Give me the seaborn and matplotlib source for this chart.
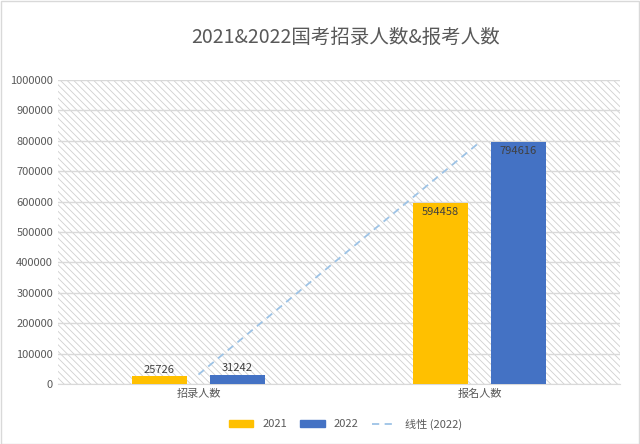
import matplotlib
matplotlib.use("Agg")
import matplotlib.pyplot as plt
import pandas as pd
import seaborn as sns
from matplotlib.lines import Line2D
from matplotlib.patches import Patch

plt.rcParams["font.family"] = ["sans-serif"]
plt.rcParams["font.sans-serif"] = ["Noto Sans CJK SC", "Noto Sans CJK JP", "Noto Sans CJK TC",
                                   "Noto Sans CJK KR", "DejaVu Sans"]
plt.rcParams["hatch.color"] = "#d0d0d0"
plt.rcParams["hatch.linewidth"] = 0.6

categories = ["招录人数", "报名人数"]
years = ["2021", "2022"]
values_2021 = [25726, 594458]
values_2022 = [31242, 794616]
colors = ["#FFC000", "#4472C4"]

df = pd.DataFrame({
    "category": categories * 2,
    "year": [years[0]] * 2 + [years[1]] * 2,
    "value": values_2021 + values_2022,
})

fig = plt.figure(figsize=(6.4, 4.44), dpi=100)
ax = fig.add_axes([0.0906, 0.135, 0.878, 0.685])
fig.patches.append(plt.Rectangle((0.001, 0.001), 0.997, 0.997, transform=fig.transFigure,
                                 fill=False, edgecolor="#d9d9d9", linewidth=1))

ax.add_patch(plt.Rectangle((0, 0), 1, 1, transform=ax.transAxes, facecolor="white",
                           hatch="\\\\\\\\\\", edgecolor="#d0d0d0", linewidth=0, zorder=0))
ax.set_facecolor("none")

sns.barplot(data=df, x="category", y="value", hue="year", palette=colors,
            width=0.555, gap=0.295, ax=ax, legend=False, zorder=3, saturation=1)

for cont in ax.containers:
    for bar in cont:
        h = bar.get_height()
        xc = bar.get_x() + bar.get_width() / 2
        if h > 200000:
            ax.text(xc, h - 12000, f"{int(h)}", ha="center", va="top", fontsize=8,
                    color="#404040", zorder=5)
        else:
            ax.text(xc, h + 5000, f"{int(h)}", ha="center", va="bottom", fontsize=8,
                    color="#404040", zorder=5)

ax.plot([0, 1], values_2022, linestyle=(0, (4, 3)), color="#9DC3E6", linewidth=1.3, zorder=4)

ax.set_xlim(-0.5, 1.5)
ax.set_ylim(0, 1000000)
ax.set_yticks(range(0, 1000001, 100000))
ax.set_yticklabels([str(v) for v in range(0, 1000001, 100000)])
ax.yaxis.grid(True, color="#d9d9d9", linewidth=1, zorder=1)
ax.set_axisbelow(True)
ax.tick_params(axis="both", length=0, labelsize=8, colors="#595959")
ax.set_xlabel("")
ax.set_ylabel("")
for s in ["top", "right", "left"]:
    ax.spines[s].set_visible(False)
ax.spines["bottom"].set_color("#d9d9d9")

fig.text(0.54, 0.915, "2021&2022国考招录人数&报考人数", ha="center", va="center",
         fontsize=14, color="#595959")

handles = [Patch(color=colors[0], label="2021"), Patch(color=colors[1], label="2022"),
           Line2D([0], [0], color="#9DC3E6", linestyle=(0, (4, 3)), lw=1.3, label="线性 (2022)")]
fig.legend(handles=handles, loc="center", bbox_to_anchor=(0.54, 0.045), ncol=3, frameon=False,
           fontsize=8, handlelength=2.2, columnspacing=1.2, labelcolor="#595959")

fig.savefig("out.png", dpi=100)
